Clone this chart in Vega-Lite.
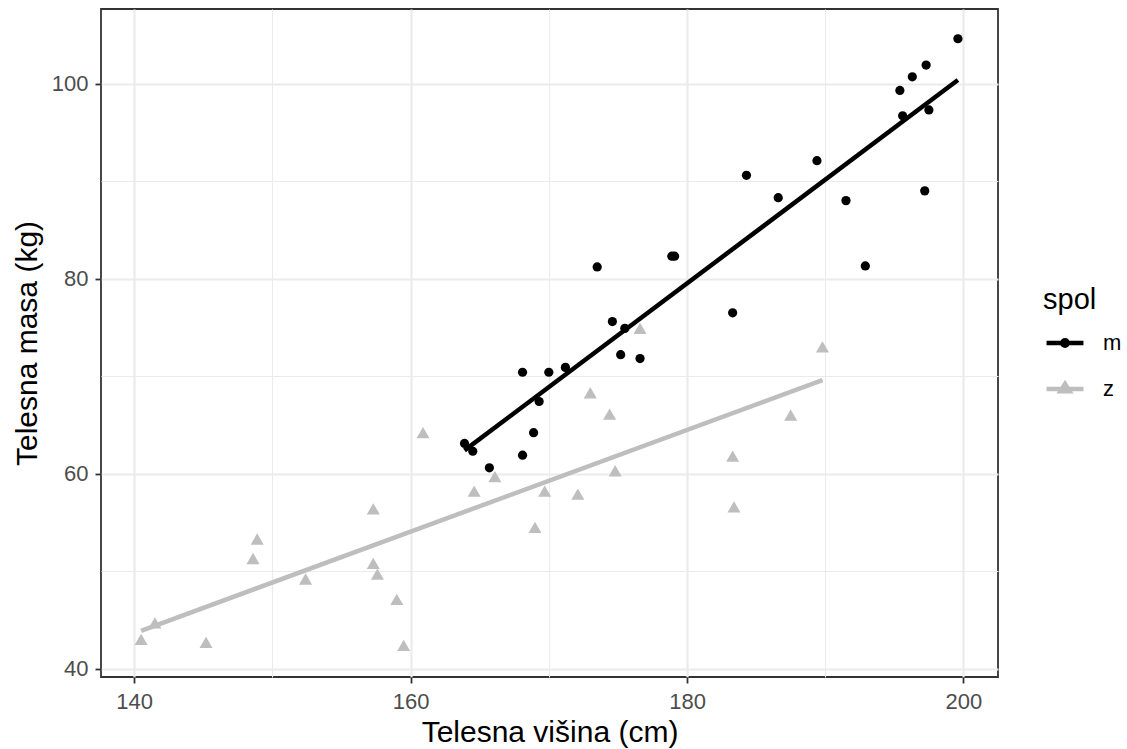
{
  "$schema": "https://vega.github.io/schema/vega-lite/v6.json",
  "width": 897,
  "height": 668,
  "autosize": "none",
  "padding": {"left": 101, "top": 9, "right": 129, "bottom": 72},
  "background": "white",
  "config": {
    "font": "Liberation Sans",
    "view": {"stroke": "#333333", "strokeWidth": 1.8},
    "axis": {
      "domain": false,
      "gridColor": "#EBEBEB",
      "tickColor": "#333333",
      "tickSize": 6,
      "tickWidth": 1.8,
      "labelColor": "#4D4D4D",
      "labelFontSize": 22,
      "titleFontSize": 30,
      "titleFontWeight": "normal",
      "titleColor": "#000000"
    },
    "legend": {
      "padding": 0,
      "symbolSize": 2025,
      "symbolOffset": -3,
      "labelOffset": 13,
      "rowPadding": 9,
      "titlePadding": 3,
      "titleFontSize": 29,
      "titleFontWeight": "normal",
      "titleColor": "#000000",
      "labelFontSize": 22,
      "labelColor": "#000000"
    }
  },
  "data": {
    "values": [
      {"visina": 199.6, "masa": 104.6, "spol": "m"},
      {"visina": 197.3, "masa": 101.9, "spol": "m"},
      {"visina": 196.3, "masa": 100.7, "spol": "m"},
      {"visina": 195.4, "masa": 99.3, "spol": "m"},
      {"visina": 195.6, "masa": 96.7, "spol": "m"},
      {"visina": 197.5, "masa": 97.3, "spol": "m"},
      {"visina": 189.4, "masa": 92.1, "spol": "m"},
      {"visina": 184.3, "masa": 90.6, "spol": "m"},
      {"visina": 186.6, "masa": 88.3, "spol": "m"},
      {"visina": 191.5, "masa": 88.0, "spol": "m"},
      {"visina": 197.2, "masa": 89.0, "spol": "m"},
      {"visina": 179.1, "masa": 82.3, "spol": "m"},
      {"visina": 178.9, "masa": 82.3, "spol": "m"},
      {"visina": 173.5, "masa": 81.2, "spol": "m"},
      {"visina": 192.9, "masa": 81.3, "spol": "m"},
      {"visina": 183.3, "masa": 76.5, "spol": "m"},
      {"visina": 174.6, "masa": 75.6, "spol": "m"},
      {"visina": 175.5, "masa": 74.9, "spol": "m"},
      {"visina": 175.2, "masa": 72.2, "spol": "m"},
      {"visina": 176.6, "masa": 71.8, "spol": "m"},
      {"visina": 171.2, "masa": 70.9, "spol": "m"},
      {"visina": 170.0, "masa": 70.4, "spol": "m"},
      {"visina": 168.1, "masa": 70.4, "spol": "m"},
      {"visina": 169.3, "masa": 67.4, "spol": "m"},
      {"visina": 168.9, "masa": 64.2, "spol": "m"},
      {"visina": 168.1, "masa": 61.9, "spol": "m"},
      {"visina": 165.7, "masa": 60.6, "spol": "m"},
      {"visina": 163.9, "masa": 63.1, "spol": "m"},
      {"visina": 164.5, "masa": 62.3, "spol": "m"},
      {"visina": 140.5, "masa": 43.0, "spol": "z"},
      {"visina": 141.5, "masa": 44.7, "spol": "z"},
      {"visina": 145.2, "masa": 42.7, "spol": "z"},
      {"visina": 148.9, "masa": 53.3, "spol": "z"},
      {"visina": 148.6, "masa": 51.3, "spol": "z"},
      {"visina": 152.4, "masa": 49.2, "spol": "z"},
      {"visina": 157.3, "masa": 56.4, "spol": "z"},
      {"visina": 157.3, "masa": 50.8, "spol": "z"},
      {"visina": 157.6, "masa": 49.7, "spol": "z"},
      {"visina": 159.0, "masa": 47.1, "spol": "z"},
      {"visina": 159.5, "masa": 42.4, "spol": "z"},
      {"visina": 160.9, "masa": 64.2, "spol": "z"},
      {"visina": 164.6, "masa": 58.2, "spol": "z"},
      {"visina": 166.1, "masa": 59.7, "spol": "z"},
      {"visina": 169.0, "masa": 54.5, "spol": "z"},
      {"visina": 169.7, "masa": 58.2, "spol": "z"},
      {"visina": 176.6, "masa": 74.9, "spol": "z"},
      {"visina": 173.0, "masa": 68.3, "spol": "z"},
      {"visina": 174.4, "masa": 66.1, "spol": "z"},
      {"visina": 174.8, "masa": 60.3, "spol": "z"},
      {"visina": 172.1, "masa": 57.9, "spol": "z"},
      {"visina": 183.3, "masa": 61.8, "spol": "z"},
      {"visina": 183.4, "masa": 56.6, "spol": "z"},
      {"visina": 187.5, "masa": 66.0, "spol": "z"},
      {"visina": 189.8, "masa": 73.0, "spol": "z"}
    ]
  },
  "encoding": {
    "x": {
      "field": "visina",
      "type": "quantitative",
      "title": "Telesna višina (cm)",
      "scale": {"domain": [137.6, 202.5], "nice": false, "zero": false},
      "axis": {
        "values": [140, 150, 160, 170, 180, 190, 200],
        "labelExpr": "datum.value % 20 == 0 ? datum.label : ''",
        "tickOpacity": {"condition": {"test": "datum.value % 20 == 0", "value": 1}, "value": 0},
        "gridWidth": {"condition": {"test": "datum.value % 20 == 0", "value": 2.2}, "value": 1.1},
        "labelPadding": 8,
        "titlePadding": 5
      }
    },
    "y": {
      "field": "masa",
      "type": "quantitative",
      "title": "Telesna masa (kg)",
      "scale": {"domain": [39.15, 107.65], "nice": false, "zero": false},
      "axis": {
        "values": [40, 50, 60, 70, 80, 90, 100],
        "labelExpr": "datum.value % 20 == 0 ? datum.label : ''",
        "tickOpacity": {"condition": {"test": "datum.value % 20 == 0", "value": 1}, "value": 0},
        "gridWidth": {"condition": {"test": "datum.value % 20 == 0", "value": 2.2}, "value": 1.1},
        "labelPadding": 7,
        "titlePadding": 9
      }
    }
  },
  "resolve": {"scale": {"color": "independent"}, "legend": {"color": "independent"}},
  "layer": [
    {
      "mark": {"type": "point", "filled": true, "opacity": 1},
      "encoding": {
        "color": {
          "field": "spol",
          "type": "nominal",
          "scale": {"domain": ["m", "z"], "range": ["#000000", "#BEBEBE"]},
          "legend": null
        },
        "shape": {
          "field": "spol",
          "type": "nominal",
          "scale": {"domain": ["m", "z"], "range": ["circle", "triangle-up"]},
          "legend": null
        },
        "size": {
          "field": "spol",
          "type": "nominal",
          "scale": {"domain": ["m", "z"], "range": [85, 170]},
          "legend": null
        }
      }
    },
    {
      "transform": [{"regression": "masa", "on": "visina", "groupby": ["spol"]}],
      "mark": {"type": "line", "strokeWidth": 4.5},
      "encoding": {
        "color": {
          "field": "spol",
          "type": "nominal",
          "scale": {"domain": ["m", "z"], "range": ["#000000", "#BEBEBE"]},
          "legend": {
            "title": "spol",
            "orient": "none",
            "legendX": 942,
            "legendY": 277,
            "encode": {
              "symbols": {
                "update": {
                  "shape": {"signal": "datum.value == 'm' ? 'M-0.82,0H0.82M0.12,0A0.12,0.12,0,1,1,-0.12,0A0.12,0.12,0,1,1,0.12,0Z' : 'M-0.82,0H0.82M0,-0.22L0.2,0.1L-0.2,0.1Z'"},
                  "fill": {"signal": "datum.value == 'm' ? '#000000' : '#BEBEBE'"},
                  "stroke": {"signal": "datum.value == 'm' ? '#000000' : '#BEBEBE'"},
                  "strokeWidth": {"value": 4.5},
                  "opacity": {"value": 1},
                  "fillOpacity": {"value": 1},
                  "strokeOpacity": {"value": 1}
                }
              }
            }
          }
        }
      }
    }
  ]
}
